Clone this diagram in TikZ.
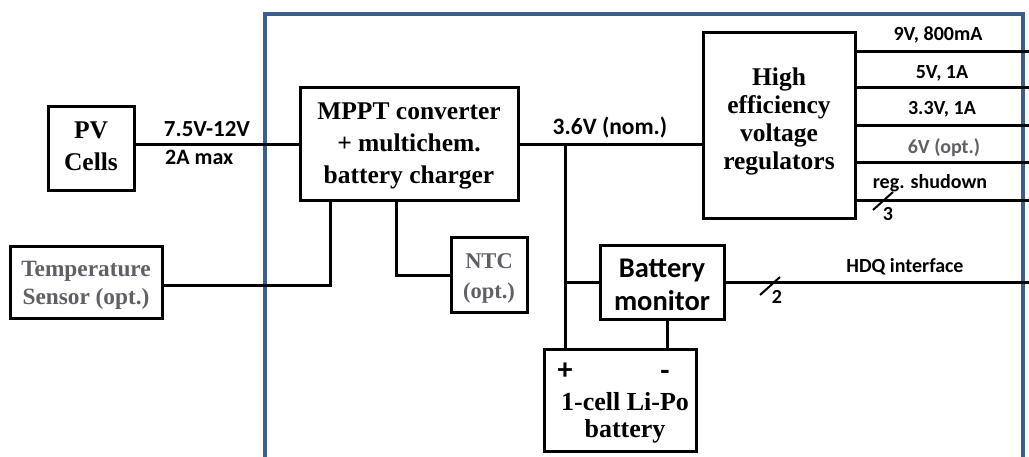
\documentclass[tikz,border=0pt]{standalone}
\usepackage{fontspec}
\setmainfont{Liberation Serif}
\newfontfamily\calib{Carlito}
\definecolor{frameblue}{RGB}{58,95,142}
\definecolor{greytxt}{RGB}{95,95,102}
\tikzset{
  blk/.style={draw=black, line width=3pt, fill=white, inner sep=0pt, align=center, font=\bfseries},
  txt/.style={inner sep=0pt, align=center},
  wire/.style={line width=3pt, line cap=rect},
  lbl/.style={inner sep=0pt, font=\calib\bfseries\fontsize{20}{24}\selectfont},
  slashmark/.style={line width=2pt},
}
\begin{document}
\begin{tikzpicture}[x=1pt,y=-1pt]
\useasboundingbox (0,0) rectangle (1029,457);
% blue frame
\draw[frameblue, line width=3.5pt] (265,457) -- (265,14) -- (1023,14) -- (1023,457);

% coordinates
\coordinate (j1) at (565,145);
\coordinate (o1) at (1029,52);
\coordinate (o2) at (1029,88);
\coordinate (o3) at (1029,126);
\coordinate (o4) at (1029,163);
\coordinate (o5) at (1029,201);
\coordinate (hdq) at (1029,283);

% box positions
\path (91,149) coordinate (pvc) (409,144.5) coordinate (mpc) (86,283) coordinate (tpc)
      (489,275.5) coordinate (ntcc) (779,126) coordinate (regc) (662,283) coordinate (monc)
      (620,400.5) coordinate (batc);

\node[blk, minimum width=86, minimum height=84] (pv) at (pvc) {};
\node[blk, minimum width=218, minimum height=113] (mppt) at (mpc) {};
\node[blk, minimum width=152, minimum height=72] (temp) at (tpc) {};
\node[blk, minimum width=76, minimum height=75] (ntc) at (ntcc) {};
\node[blk, minimum width=152, minimum height=186] (reg) at (regc) {};
\node[blk, minimum width=124, minimum height=74] (mon) at (monc) {};
\node[blk, minimum width=152, minimum height=102] (bat) at (batc) {};

\draw[wire] (pv.east |- 0,145) -- (mppt.west |- 0,145);
\draw[wire] (mppt.east) -- (mppt.east -| reg.west);
\draw[wire] (j1) -- (j1 |- bat.north);
\draw[wire] (j1 |- mon.west) -- (mon.west);
\draw[wire] ([xshift=5pt]mon.south) -- ([xshift=5pt]mon.south |- bat.north);
\draw[wire] (temp.east |- 0,286) -| ([xshift=-79pt]mppt.south);
\draw[wire] ([xshift=-13pt]mppt.south) |- (ntc.west);
\draw[wire] (mon.east) -- (hdq);
\foreach \o in {o1,o2,o3,o4,o5} \draw[wire] (reg.east |- \o) -- (\o);

% redraw box outlines over wire ends
\foreach \b/\w/\h in {pvc/86/84, mpc/218/113, tpc/152/72, ntcc/76/75, regc/152/186, monc/124/74, batc/152/102}
  \node[blk, minimum width=\w, minimum height=\h] at (\b) {};

% box texts
\node[txt, font=\bfseries\fontsize{25.5}{32}\selectfont] (pvt) at (91,146) {PV\\Cells};
\node[txt, font=\bfseries\fontsize{25.5}{32}\selectfont] (mpt) at (409,146) {MPPT converter\\+ multichem.\\battery charger};
\node[txt, text=greytxt, font=\bfseries\fontsize{23.3}{28}\selectfont] (tpt) at (86,285) {Temperature\\Sensor (opt.)};
\node[txt, text=greytxt, font=\bfseries\fontsize{22.5}{30}\selectfont] (ntt) at (489,278) {NTC\\(opt.)};
\node[txt, font=\bfseries\fontsize{25.5}{28}\selectfont] (rgt) at (779,121) {High\\efficiency\\voltage\\regulators};
\node[txt, font=\calib\bfseries\fontsize{28.5}{33}\selectfont] (mnt) at (662,285) {Battery\\monitor};

% battery texts
\node[inner sep=0pt, font=\calib\bfseries\fontsize{30}{30}\selectfont] (plus) at (565,371) {+};
\node[inner sep=0pt, font=\calib\bfseries\fontsize{30}{30}\selectfont] (minus) at (665,375) {-};
\node[inner sep=0pt, font=\bfseries\fontsize{26}{30}\selectfont] (bt1) at (625,402) {1-cell Li-Po};
\node[inner sep=0pt, font=\bfseries\fontsize{26}{30}\selectfont] (bt2) at (625,431) {battery};

% labels
\node[lbl, font=\calib\bfseries\fontsize{23}{26}\selectfont] (l1) at (207,129) {7.5V-12V};
\node[lbl, anchor=west, font=\calib\bfseries\fontsize{22}{26}\selectfont] (l2) at (165,157) {2A max};
\node[lbl, font=\calib\bfseries\fontsize{23.5}{26}\selectfont] (l3) at (610,128) {3.6V (nom.)};
\node[lbl] (r1) at (938,35) {9V, 800mA};
\node[lbl] (r2) at (942,73) {5V, 1A};
\node[lbl] (r3) at (942,109) {3.3V, 1A};
\node[lbl, text=greytxt] (r4) at (944,148) {6V (opt.)};
\node[lbl] (r5) at (930,183) {reg. shudown};
\node[lbl] (hl) at (905,267) {HDQ interface};

% bus slashes
\coordinate (s1a) at (873,210); \coordinate (s1b) at (893,192);
\draw[slashmark] (s1a) -- (s1b);
\node[lbl] (n3) at (888,214) {3};
\coordinate (s2a) at (760,295); \coordinate (s2b) at (780,277);
\draw[slashmark] (s2a) -- (s2b);
\node[lbl] (n2) at (777,297) {2};
\end{tikzpicture}
\end{document}
